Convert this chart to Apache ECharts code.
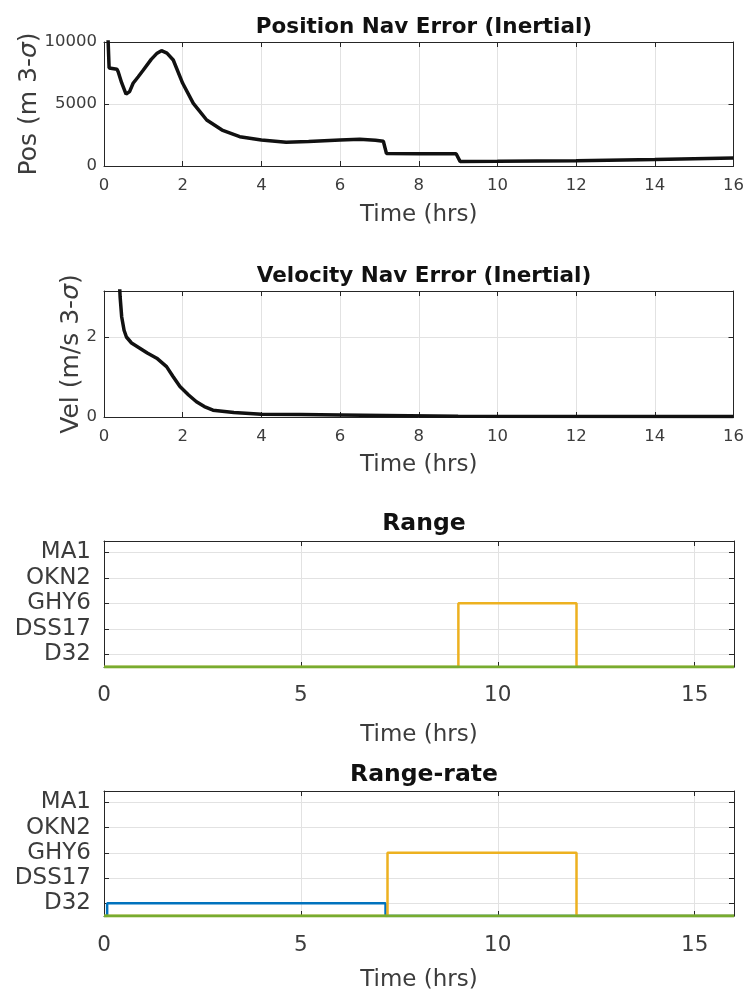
<!DOCTYPE html>
<html>
<head>
<meta charset="utf-8">
<script src="https://cdn.jsdelivr.net/npm/echarts@6/dist/echarts.min.js"></script>
<style>
  html, body { margin: 0; padding: 0; background: #fff; }
  #main { width: 747px; height: 995px; }
</style>
</head>
<body>
<div id="main"></div>
<script>
// position nav error (m 3-sigma) vs time (hrs)
const posTime = [0, 0.1, 0.13, 0.33, 0.36, 0.45, 0.56, 0.65, 0.74, 0.87, 1.0, 1.2, 1.35, 1.46, 1.6, 1.76, 2.0, 2.27, 2.61, 3.0, 3.45, 4.0, 4.63, 5.2, 6.0, 6.5, 6.9, 7.1, 7.18, 8.0, 8.95, 9.05, 10, 12, 14, 16];
const posErr  = [14000, 10500, 7900, 7800, 7600, 6700, 5800, 6000, 6670, 7200, 7740, 8600, 9100, 9300, 9100, 8550, 6670, 5050, 3710, 2900, 2360, 2100, 1910, 1980, 2100, 2150, 2080, 2000, 1000, 980, 990, 370, 380, 420, 520, 650];

// velocity nav error (m/s 3-sigma) vs time (hrs)
const velTime = [0.3, 0.38, 0.41, 0.45, 0.51, 0.57, 0.7, 0.91, 1.1, 1.34, 1.59, 1.75, 1.93, 2.15, 2.35, 2.55, 2.77, 3.3, 4, 5, 6, 7.15, 7.2, 9, 9.05, 16];
const velErr  = [5, 3.6, 3.0, 2.5, 2.17, 2.0, 1.85, 1.72, 1.6, 1.47, 1.26, 1.02, 0.76, 0.55, 0.38, 0.26, 0.17, 0.11, 0.07, 0.06, 0.05, 0.04, 0.025, 0.02, 0.01, 0.01];

// tracking stations, level 0 = not tracked
const stations = ['D32', 'DSS17', 'GHY6', 'OKN2', 'MA1'];
const stationTicks = [1, 2, 3, 4, 5];

const rangeGHY6Time  = [0, 9, 9, 12, 12, 16];
const rangeGHY6Level = [0, 0, 3, 3, 0, 0];
const rangeMA1Time   = [0, 16];
const rangeMA1Level  = [0, 0];

const rateD32Time   = [0, 0.08, 0.08, 7.15, 7.15, 16];
const rateD32Level  = [0, 0, 1, 1, 0, 0];
const rateGHY6Time  = [0, 7.2, 7.2, 12, 12, 16];
const rateGHY6Level = [0, 0, 3, 3, 0, 0];
const rateMA1Time   = [0, 16];
const rateMA1Level  = [0, 0];

const timeTicksFine   = [0, 2, 4, 6, 8, 10, 12, 14, 16];
const timeTicksCoarse = [0, 5, 10, 15];
const posTicks = [0, 5000, 10000];
const velTicks = [0, 2];

const FONT = 'DejaVu Sans';
const AXIS_COLOR = '#262626';
const LABEL_COLOR = '#3c3c3c';
const GRID_COLOR = '#e2e2e2';
const STATION_FLOOR = 0.5;

function pairs(xs, ys) {
  return xs.map((x, i) => [x, ys[i]]);
}
function stationPairs(xs, lv) {
  return xs.map((x, i) => [x, lv[i] === 0 ? STATION_FLOOR : lv[i]]);
}

const grids = [
  { left: 104, top: 42,  width: 630, height: 124 },
  { left: 104, top: 291, width: 630, height: 126 },
  { left: 104, top: 541, width: 630, height: 126 },
  { left: 104, top: 791, width: 630, height: 125 }
];

const panels = [
  {
    title: 'Position Nav Error (Inertial)', titleTop: 11, titleSize: 21.5,
    x: { ticks: timeTicksFine, font: 16.5, margin: 11, nameGap: 38 },
    y: { min: 0, max: 10000, ticks: posTicks, font: 16.5, margin: 7, name: 'Pos (m 3-{i|σ})', nameGap: 62 }
  },
  {
    title: 'Velocity Nav Error (Inertial)', titleTop: 260, titleSize: 21.5,
    x: { ticks: timeTicksFine, font: 16.5, margin: 11, nameGap: 37 },
    y: { min: 0, max: 3.15, ticks: velTicks, font: 16.5, margin: 7, name: 'Vel (m/s 3-{i|σ})', nameGap: 20 }
  },
  {
    title: 'Range', titleTop: 507, titleSize: 23.5,
    x: { ticks: timeTicksCoarse, font: 21.5, margin: 17, nameGap: 57 },
    y: { min: STATION_FLOOR, max: 5.45, ticks: stationTicks, names: stations, font: 23, margin: 13 }
  },
  {
    title: 'Range-rate', titleTop: 758, titleSize: 23.5,
    x: { ticks: timeTicksCoarse, font: 21.5, margin: 18, nameGap: 53 },
    y: { min: STATION_FLOOR, max: 5.45, ticks: stationTicks, names: stations, font: 23, margin: 13 }
  }
];

const xAxes = [];
const yAxes = [];
const titles = [];

function tickStyle(ticks) {
  return { show: true, inside: true, length: 5, customValues: ticks, lineStyle: { color: AXIS_COLOR } };
}
const axisLineStyle = { show: true, onZero: false, lineStyle: { color: AXIS_COLOR, width: 1 } };

panels.forEach((p, g) => {
  titles.push({
    text: p.title,
    left: 419,
    top: p.titleTop,
    textAlign: 'center',
    textStyle: { fontFamily: FONT, fontWeight: 'bold', fontSize: p.titleSize, color: '#111' }
  });

  const xBase = {
    type: 'value', gridIndex: g, min: 0, max: 16,
    axisLine: axisLineStyle,
    axisTick: tickStyle(p.x.ticks)
  };
  xAxes.push(Object.assign({}, xBase, {
    position: 'bottom',
    name: 'Time (hrs)', nameLocation: 'middle', nameGap: p.x.nameGap,
    nameTextStyle: { fontFamily: FONT, fontSize: 23, color: LABEL_COLOR },
    axisLabel: {
      fontFamily: FONT, fontSize: p.x.font, color: LABEL_COLOR, margin: p.x.margin,
      customValues: p.x.ticks
    },
    splitLine: { show: true, lineStyle: { color: GRID_COLOR } }
  }));
  xAxes.push(Object.assign({}, xBase, {
    position: 'top', axisLabel: { show: false }, splitLine: { show: false }
  }));

  const yBase = {
    type: 'value', gridIndex: g, min: p.y.min, max: p.y.max,
    axisLine: axisLineStyle,
    axisTick: tickStyle(p.y.ticks)
  };
  const names = p.y.names;
  const left = Object.assign({}, yBase, {
    position: 'left',
    axisLabel: {
      fontFamily: FONT, fontSize: p.y.font, color: LABEL_COLOR, margin: p.y.margin,
      customValues: p.y.ticks,
      formatter: names ? v => names[Math.round(v) - 1] || '' : v => String(v)
    },
    splitLine: { show: true, lineStyle: { color: GRID_COLOR } }
  });
  if (p.y.name) {
    Object.assign(left, {
      name: p.y.name, nameLocation: 'middle', nameGap: p.y.nameGap, nameMoveOverlap: false,
      nameTextStyle: {
        fontFamily: FONT, fontSize: 25, color: LABEL_COLOR,
        rich: { i: { fontFamily: FONT, fontSize: 25, fontStyle: 'italic', color: LABEL_COLOR } }
      }
    });
  }
  yAxes.push(left);
  yAxes.push(Object.assign({}, yBase, {
    position: 'right', axisLabel: { show: false }, splitLine: { show: false }
  }));
});

function lineSeries(g, data, color, width) {
  return {
    type: 'line', xAxisIndex: 2 * g, yAxisIndex: 2 * g,
    data: data, showSymbol: false, symbol: 'none', clip: true,
    lineStyle: { color: color, width: width }, itemStyle: { color: color },
    animation: false, silent: true
  };
}

const series = [
  lineSeries(0, pairs(posTime, posErr), '#111', 3.5),
  lineSeries(1, pairs(velTime, velErr), '#111', 3.5),
  lineSeries(2, stationPairs(rangeGHY6Time, rangeGHY6Level), '#EDB120', 2.5),
  lineSeries(2, stationPairs(rangeMA1Time, rangeMA1Level), '#77AC30', 3),
  lineSeries(3, stationPairs(rateD32Time, rateD32Level), '#0072BD', 2.5),
  lineSeries(3, stationPairs(rateGHY6Time, rateGHY6Level), '#EDB120', 2.5),
  lineSeries(3, stationPairs(rateMA1Time, rateMA1Level), '#77AC30', 3)
];

const chart = echarts.init(document.getElementById('main'));
chart.setOption({
  animation: false,
  backgroundColor: '#fff',
  title: titles,
  grid: grids,
  xAxis: xAxes,
  yAxis: yAxes,
  series: series
});
</script>
</body>
</html>
